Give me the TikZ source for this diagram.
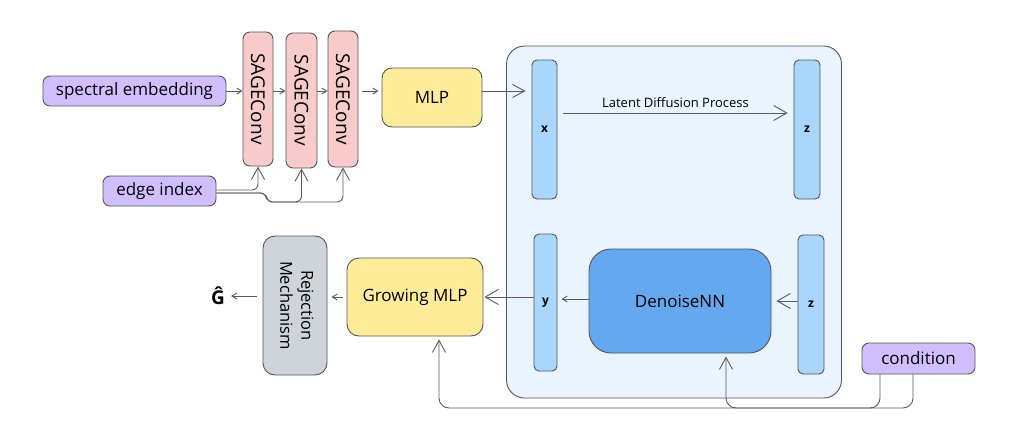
\documentclass[tikz,border=0pt]{standalone}
\usepackage{fontspec}
\setmainfont{Open Sans}
\usetikzlibrary{arrows.meta}
\definecolor{violetF}{HTML}{D0BFFF}
\definecolor{pinkF}{HTML}{F8CBCB}
\definecolor{yellowF}{HTML}{FFEC99}
\definecolor{panelF}{HTML}{E9F4FE}
\definecolor{barF}{HTML}{A9D6FC}
\definecolor{denF}{HTML}{64A8F0}
\definecolor{grayF}{HTML}{CED4DA}
\definecolor{lineC}{HTML}{5A5A5A}
\definecolor{strokeC}{HTML}{555555}
\begin{document}
\begin{tikzpicture}[x=1pt,y=-1pt,
  box/.style={draw=strokeC, line width=0.9pt, rounded corners=7pt, inner sep=0pt, align=center},
  arr/.style={draw=lineC, line width=0.9pt, -{Straight Barb[length=5pt,width=6pt]}},
  marr/.style={draw=lineC, line width=0.9pt, -{Straight Barb[length=12pt,width=13pt]}},
  bigarr/.style={draw=lineC, line width=0.9pt, -{Straight Barb[length=13pt,width=15pt]}},
  lbl/.style={font=\fontsize{17}{19}\selectfont},
  vlbl/.style={font=\fontsize{19}{21}\selectfont},
  rlbl/.style={font=\fontsize{16.5}{21}\selectfont},
  barlbl/.style={font=\bfseries\fontsize{12}{14}\selectfont}]
\useasboundingbox (0,0) rectangle (1016,444);
% panel
\node[box, rounded corners=18pt, fill=panelF, minimum width=335pt, minimum height=352pt] (panel) at (674,222) {};
% left column
\node[box, fill=violetF, minimum width=183pt, minimum height=30pt, lbl] (spec) at (134.5,91) {spectral embedding};
\node[box, fill=violetF, minimum width=113pt, minimum height=30pt, lbl] (ei) at (159.5,191) {edge index};
\node[box, fill=pinkF, minimum width=30pt, minimum height=134pt, vlbl] (s1) at (258,99) {\rotatebox{-90}{SAGEConv}};
\node[box, fill=pinkF, minimum width=31pt, minimum height=135pt, vlbl] (s2) at (301.5,100.5) {\rotatebox{-90}{SAGEConv}};
\node[box, fill=pinkF, minimum width=30pt, minimum height=136pt, vlbl] (s3) at (343,99) {\rotatebox{-90}{SAGEConv}};
\node[box, rounded corners=10pt, fill=yellowF, minimum width=100pt, minimum height=59pt, lbl] (mlp) at (432,97.5) {MLP};
% bars
\node[box, rounded corners=5pt, fill=barF, minimum width=25pt, minimum height=139pt, barlbl] (xb) at (544.5,129.5) {x};
\node[box, rounded corners=5pt, fill=barF, minimum width=26pt, minimum height=139pt, barlbl] (zt) at (807,129.5) {z};
\node[box, rounded corners=5pt, fill=barF, minimum width=23pt, minimum height=137pt, barlbl] (yb) at (545.5,302.5) {y};
\node[box, rounded corners=5pt, fill=barF, minimum width=26pt, minimum height=139pt, barlbl] (zb) at (811,304.5) {z};
\node[box, rounded corners=22pt, fill=denF, minimum width=182pt, minimum height=104pt, lbl] (dn) at (680,301) {DenoiseNN};
% bottom left
\node[box, rounded corners=12pt, fill=yellowF, minimum width=136pt, minimum height=78pt, lbl] (gm) at (415,297) {Growing MLP};
\node[box, rounded corners=12pt, fill=grayF, minimum width=64pt, minimum height=139pt, rlbl] (rej) at (295,305.5) {\rotatebox{-90}{\begin{tabular}{@{}c@{}}Rejection\\Mechanism\end{tabular}}};
\node[font=\bfseries\fontsize{19}{21}\selectfont, inner sep=1pt] (G) at (218,296) {Ĝ};
\node[box, fill=violetF, minimum width=113pt, minimum height=31pt, lbl] (cond) at (918.5,358.5) {condition};
% coordinates
\coordinate (lat) at (0,113);
\coordinate (c1) at (880,0);
\coordinate (c2) at (913,0);
\coordinate (bot) at (0,408);
\coordinate (gx) at (439,0);
\coordinate (dx) at (726,0);
\coordinate (ey) at (0,202);
% top arrows
\draw[arr] (spec.east) -- (spec.east -| s1.west);
\draw[arr] (s1.east |- spec.east) -- (s2.west |- spec.east);
\draw[arr] (s2.east |- spec.east) -- (s3.west |- spec.east);
\draw[arr, shorten <=4pt, shorten >=3pt] (s3.east |- spec.east) -- (mlp.west |- spec.east);
\draw[marr, shorten >=6pt] (mlp.east |- spec.east) -- (xb.west |- spec.east);
\draw[bigarr, shorten <=6pt, shorten >=6pt] (xb.east |- lat) -- (zt.west |- lat)
  node[midway, above=2pt, font=\fontsize{13}{15}\selectfont] {Latent Diffusion Process};
% edge index arrows
\draw[marr, rounded corners=6pt] ([yshift=1pt]ei.east) -| (s1.south);
\draw[marr, rounded corners=6pt] ([yshift=-2pt]ei.east) -- ++(50,0) |- (ey -| s2.south) -- (s2.south);
\draw[marr, rounded corners=6pt] ([yshift=-2pt]ei.east) -- ++(50,0) |- (ey -| s3.south) -- (s3.south);
% bottom arrows
\draw[bigarr, shorten >=5pt] (zb.west |- dn.east) -- (dn.east);
\draw[arr, shorten >=4pt] ([yshift=2pt]dn.west) -- ([yshift=2pt]dn.west -| yb.east);
\draw[bigarr, shorten >=1pt] (yb.west |- gm.east) -- (gm.east);
\draw[arr, shorten <=4pt, shorten >=4pt] (gm.west) -- (gm.west -| rej.east);
\draw[arr, shorten <=6pt, shorten >=5pt] (rej.west |- G.east) -- (G.east);
% condition arrows
\draw[marr, rounded corners=10pt] (cond.south -| c1) -- (bot -| c1) -- (bot -| gx) -- ([yshift=-3pt]gm.south -| gx);
\draw[marr, rounded corners=10pt] (cond.south -| c2) -- (bot -| c2) -- (bot -| dx) -- ([yshift=-3pt]dn.south -| dx);
\end{tikzpicture}
\end{document}
